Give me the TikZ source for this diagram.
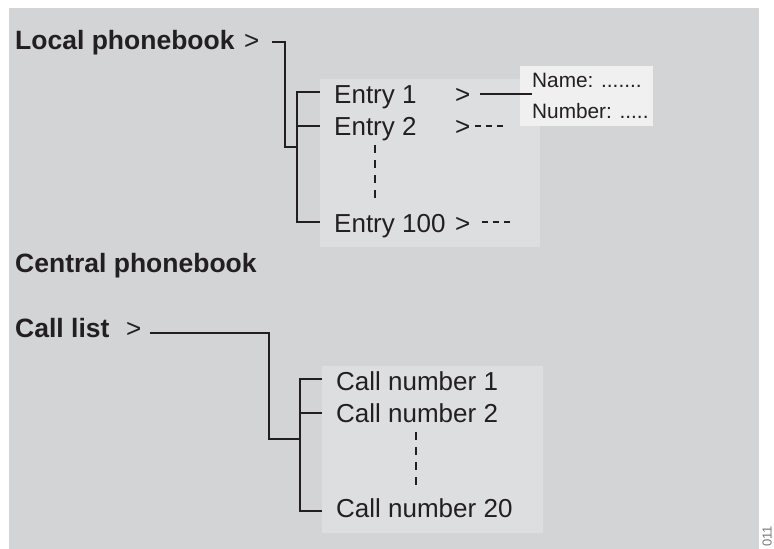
\documentclass[tikz,border=0pt]{standalone}
\usepackage{fontspec}
\setmainfont{Liberation Sans}
\definecolor{bg}{RGB}{211,212,214}
\definecolor{inner}{RGB}{221,222,224}
\definecolor{namebg}{RGB}{240,240,240}
\definecolor{ink}{RGB}{35,31,32}
\definecolor{code}{RGB}{120,120,120}
\begin{document}
\begin{tikzpicture}[x=1pt,y=-1pt,
  txt/.style={anchor=base west,inner sep=0pt,text=ink,font=\fontsize{26}{30}\selectfont},
  head/.style={anchor=base west,inner sep=0pt,text=ink,font=\fontsize{26.5}{30}\selectfont\bfseries},
  small/.style={anchor=base west,inner sep=0pt,text=ink,font=\fontsize{20.8}{24}\selectfont},
  tree/.style={draw=ink,line width=1.4pt},
  dashline/.style={draw=ink,line width=1.4pt,dash pattern=on 6pt off 5pt},
  vdash/.style={draw=ink,line width=1.4pt,dash pattern=on 8pt off 7pt}]
\useasboundingbox (0,0) rectangle (774,549);
% backgrounds
\fill[bg] (9,8) rectangle (759,549);
\fill[inner] (320,79) rectangle (540,247);
\fill[inner] (322,366) rectangle (543,533);
\fill[namebg] (520,66) rectangle (653,126);
% headings
\node[head] (local) at (15,49) {Local phonebook};
\node[txt] (localgt) at (244,49) {>};
\node[head] (central) at (15,272) {Central phonebook};
\node[head] (calllist) at (15,337) {Call list};
\node[txt] (callgt) at (126,337) {>};
% entries
\node[txt] (e1) at (334,103) {Entry 1};
\node[txt] (e2) at (334,135) {Entry 2};
\node[txt] (e100) at (334,232) {Entry 100};
\node[txt] (e1gt) at (455,103) {>};
\node[txt] (e2gt) at (455,135) {>};
\node[txt] (e100gt) at (455,232) {>};
\node[small] (name) at (532,87) {Name: .......};
\node[small] (number) at (532,118) {Number: .....};
% call numbers
\node[txt] (c1) at (336,390) {Call number 1};
\node[txt] (c2) at (336,422) {Call number 2};
\node[txt] (c20) at (336,517) {Call number 20};
% code
\node[anchor=south west,inner sep=0pt,rotate=90,text=code,font=\fontsize{13}{15}\selectfont] (code) at (772,547) {011};
% local tree coordinates
\coordinate (l0) at (272,42);
\coordinate (l1) at (285,42);
\coordinate (l2) at (285,147);
\coordinate (l3) at (297,147);
\coordinate (lt) at (297,92);
\coordinate (lb) at (297,222);
\coordinate (b1) at (320,92);
\coordinate (b2) at (297,126);
\coordinate (b2e) at (320,126);
\coordinate (b100) at (320,222);
\draw[tree] (l0) -- (l1) -- (l2) -- (l3);
\draw[tree] (b1) -- (lt) -- (lb) -- (b100);
\draw[tree] (b2) -- (b2e);
% entry connectors
\coordinate (e1s) at (480,94);
\coordinate (e2s) at (475,126);
\coordinate (e2e) at (503,126);
\coordinate (e100s) at (482,222);
\coordinate (e100e) at (510,222);
\draw[tree] (e1s) -- (name.west |- e1s);
\draw[dashline] (e2s) -- (e2e);
\draw[dashline] (e100s) -- (e100e);
\coordinate (v1) at (375,145);
\coordinate (v2) at (375,200);
\draw[vdash] (v1) -- (v2);
% call tree
\coordinate (k0) at (150,333);
\coordinate (k1) at (269,333);
\coordinate (k2) at (269,439);
\coordinate (k3) at (300,439);
\coordinate (kt) at (300,379);
\coordinate (kb) at (300,511);
\coordinate (kb1) at (322,379);
\coordinate (kb2) at (300,413);
\coordinate (kb2e) at (322,413);
\coordinate (kb20) at (322,511);
\draw[tree] (k0) -- (k1) -- (k2) -- (k3);
\draw[tree] (kb1) -- (kt) -- (kb) -- (kb20);
\draw[tree] (kb2) -- (kb2e);
\coordinate (w1) at (416,432);
\coordinate (w2) at (416,487);
\draw[vdash] (w1) -- (w2);
\end{tikzpicture}
\end{document}
